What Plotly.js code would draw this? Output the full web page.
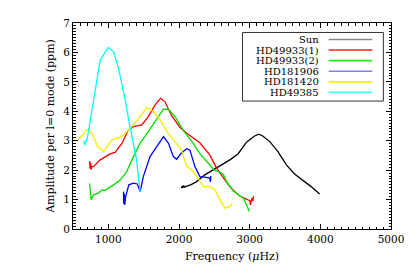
<!DOCTYPE html>
<html><head><meta charset="utf-8">
<script src="https://cdn.plot.ly/plotly-3.0.1.min.js"></script>
<style>html,body{margin:0;padding:0;background:#fff}#c{width:414px;height:273px}</style>
</head><body><div id="c"></div>
<script>
const seriesNames = ["Sun","HD49933(1)","HD49933(2)","HD181906","HD181420","HD49385"];
const seriesColors = ["#000000","#ff0000","#00e000","#0000ff","#f0f000","#00ffff"];
const legendColors = ["#888888","#ff2020","#20ee20","#7f7fff","#f5f500","#40ffff"];

const sunX = [2035,2045,2055,2065,2080,2100,2165,2250,2365,2485,2600,2720,2835,2955,3070,3130,3185,3285,3400,3520,3635,3750,3870,3990];
const sunY = [1.39,1.46,1.40,1.47,1.42,1.45,1.50,1.61,1.84,2.01,2.18,2.35,2.55,2.95,3.16,3.22,3.16,2.97,2.63,2.18,1.87,1.67,1.44,1.19];

const hd49933aX = [735,742,750,757,765,790,885,1026,1095,1190,1285,1355,1475,1565,1660,1738,1800,1895,2015,2110,2295,2390,2435,2530,2625,2700,2765,2860,2975,3000,3012,3030,3045,3055];
const hd49933aY = [2.30,2.05,2.25,2.02,2.12,2.12,2.35,2.55,2.60,2.90,3.37,3.48,3.54,3.82,4.21,4.44,4.33,3.85,3.45,3.25,2.93,2.63,2.52,2.08,1.73,1.50,1.33,1.12,0.99,0.97,0.82,1.05,0.95,1.12];

const hd49933bX = [734,745,758,790,860,910,955,1000,1075,1170,1260,1355,1450,1565,1685,1780,1850,1945,2060,2200,2290,2435,2500,2580,2630,2675,2765,2850,2910,2955,2995];
const hd49933bY = [1.55,1.20,0.99,1.16,1.22,1.33,1.31,1.39,1.50,1.67,1.95,2.46,2.92,3.31,3.76,4.07,4.07,3.82,3.35,2.92,2.58,2.18,2.00,1.93,1.85,1.60,1.30,1.15,1.05,0.82,0.60];

const hd181906X = [1215,1218,1225,1232,1245,1290,1355,1410,1450,1495,1590,1685,1780,1850,1920,1965,2035,2110,2155,2225,2295,2365,2435,2445,2450];
const hd181906Y = [1.27,0.85,1.20,0.82,1.10,1.50,1.56,1.53,1.27,1.78,2.46,2.80,3.14,2.92,2.46,2.37,2.58,2.73,2.68,2.12,1.78,1.76,1.73,1.60,1.80];

const hd181420X = [500,560,620,680,720,780,850,935,1000,1050,1190,1310,1450,1545,1640,1735,1830,1920,2035,2110,2180,2270,2345,2435,2510,2580,2650,2720,2755];
const hd181420Y = [3.00,3.00,3.15,3.35,3.39,3.20,2.80,2.63,2.85,3.03,3.14,3.42,3.82,4.13,3.99,3.70,3.31,3.05,2.69,2.12,2.01,1.73,1.44,1.44,1.33,0.99,0.71,0.77,0.88];

const hd49385X = [655,665,675,700,800,885,1000,1075,1145,1200,1240,1285,1330,1400,1450];
const hd49385Y = [3.00,2.85,2.95,3.05,4.50,5.74,6.17,6.02,5.45,4.85,4.38,3.75,3.20,2.35,1.27];

const xs = [sunX,hd49933aX,hd49933bX,hd181906X,hd181420X,hd49385X];
const ys = [sunY,hd49933aY,hd49933bY,hd181906Y,hd181420Y,hd49385Y];

const xTickVals = [1000,2000,3000,4000,5000];
const yTickVals = [0,1,2,3,4,5,6,7];

const traces = seriesNames.map((n,i)=>({
  x: xs[i], y: ys[i], type:'scatter', mode:'lines', name:n,
  line:{color:seriesColors[i], width:1.3}, showlegend:false, hoverinfo:'skip'
}));

const font = "DejaVu Serif, serif";
// legend (text on left, line on right, inside a box)
const shapes = [{type:'rect', xref:'paper', yref:'paper', x0:0.533, x1:0.976, y0:0.621, y1:0.954,
  line:{color:'#333', width:1}, fillcolor:'rgba(0,0,0,0)'}];
const annotations = [];
seriesNames.forEach((n,i)=>{
  const yy = 0.920 - i*0.0514;
  shapes.push({type:'line', xref:'paper', yref:'paper', x0:0.804, x1:0.941, y0:yy, y1:yy,
    line:{color:legendColors[i], width:1.6}});
  annotations.push({xref:'paper', yref:'paper', x:0.778, y:yy, xanchor:'right', yanchor:'middle',
    text:n, showarrow:false, borderpad:0, font:{family:font, size:10, color:'#000'}});
});

const axisCommon = {showline:true, linecolor:'#000', linewidth:1, mirror:'ticks', ticks:'inside',
  tickcolor:'#000', ticklen:5, tickwidth:1, showgrid:false, zeroline:false,
  tickfont:{family:font, size:10.5, color:'#000'}};

const layout = {
  width:414, height:273, margin:{l:73, r:22.5, t:23, b:44},
  paper_bgcolor:'#fff', plot_bgcolor:'#fff',
  xaxis:Object.assign({}, axisCommon, {range:[500,5000], tickvals:xTickVals, ticktext:xTickVals.map(String),
    minor:{dtick:100, tick0:0, ticks:'inside', ticklen:2.5, tickcolor:'#000', showgrid:false},
    title:{text:'Frequency (<i>μ</i>Hz)', font:{family:font, size:11, color:'#000'}, standoff:8}}),
  yaxis:Object.assign({}, axisCommon, {range:[0,7], tickvals:yTickVals, ticktext:yTickVals.map(String),
    minor:{dtick:0.1, tick0:0, ticks:'inside', ticklen:2.5, tickcolor:'#000', showgrid:false},
    title:{text:'Amplitude per l=0 mode (ppm)', font:{family:font, size:11, color:'#000'}, standoff:6}}),
  shapes:shapes, annotations:annotations
};
Plotly.newPlot('c', traces, layout, {staticPlot:true, displayModeBar:false});
</script></body></html>
